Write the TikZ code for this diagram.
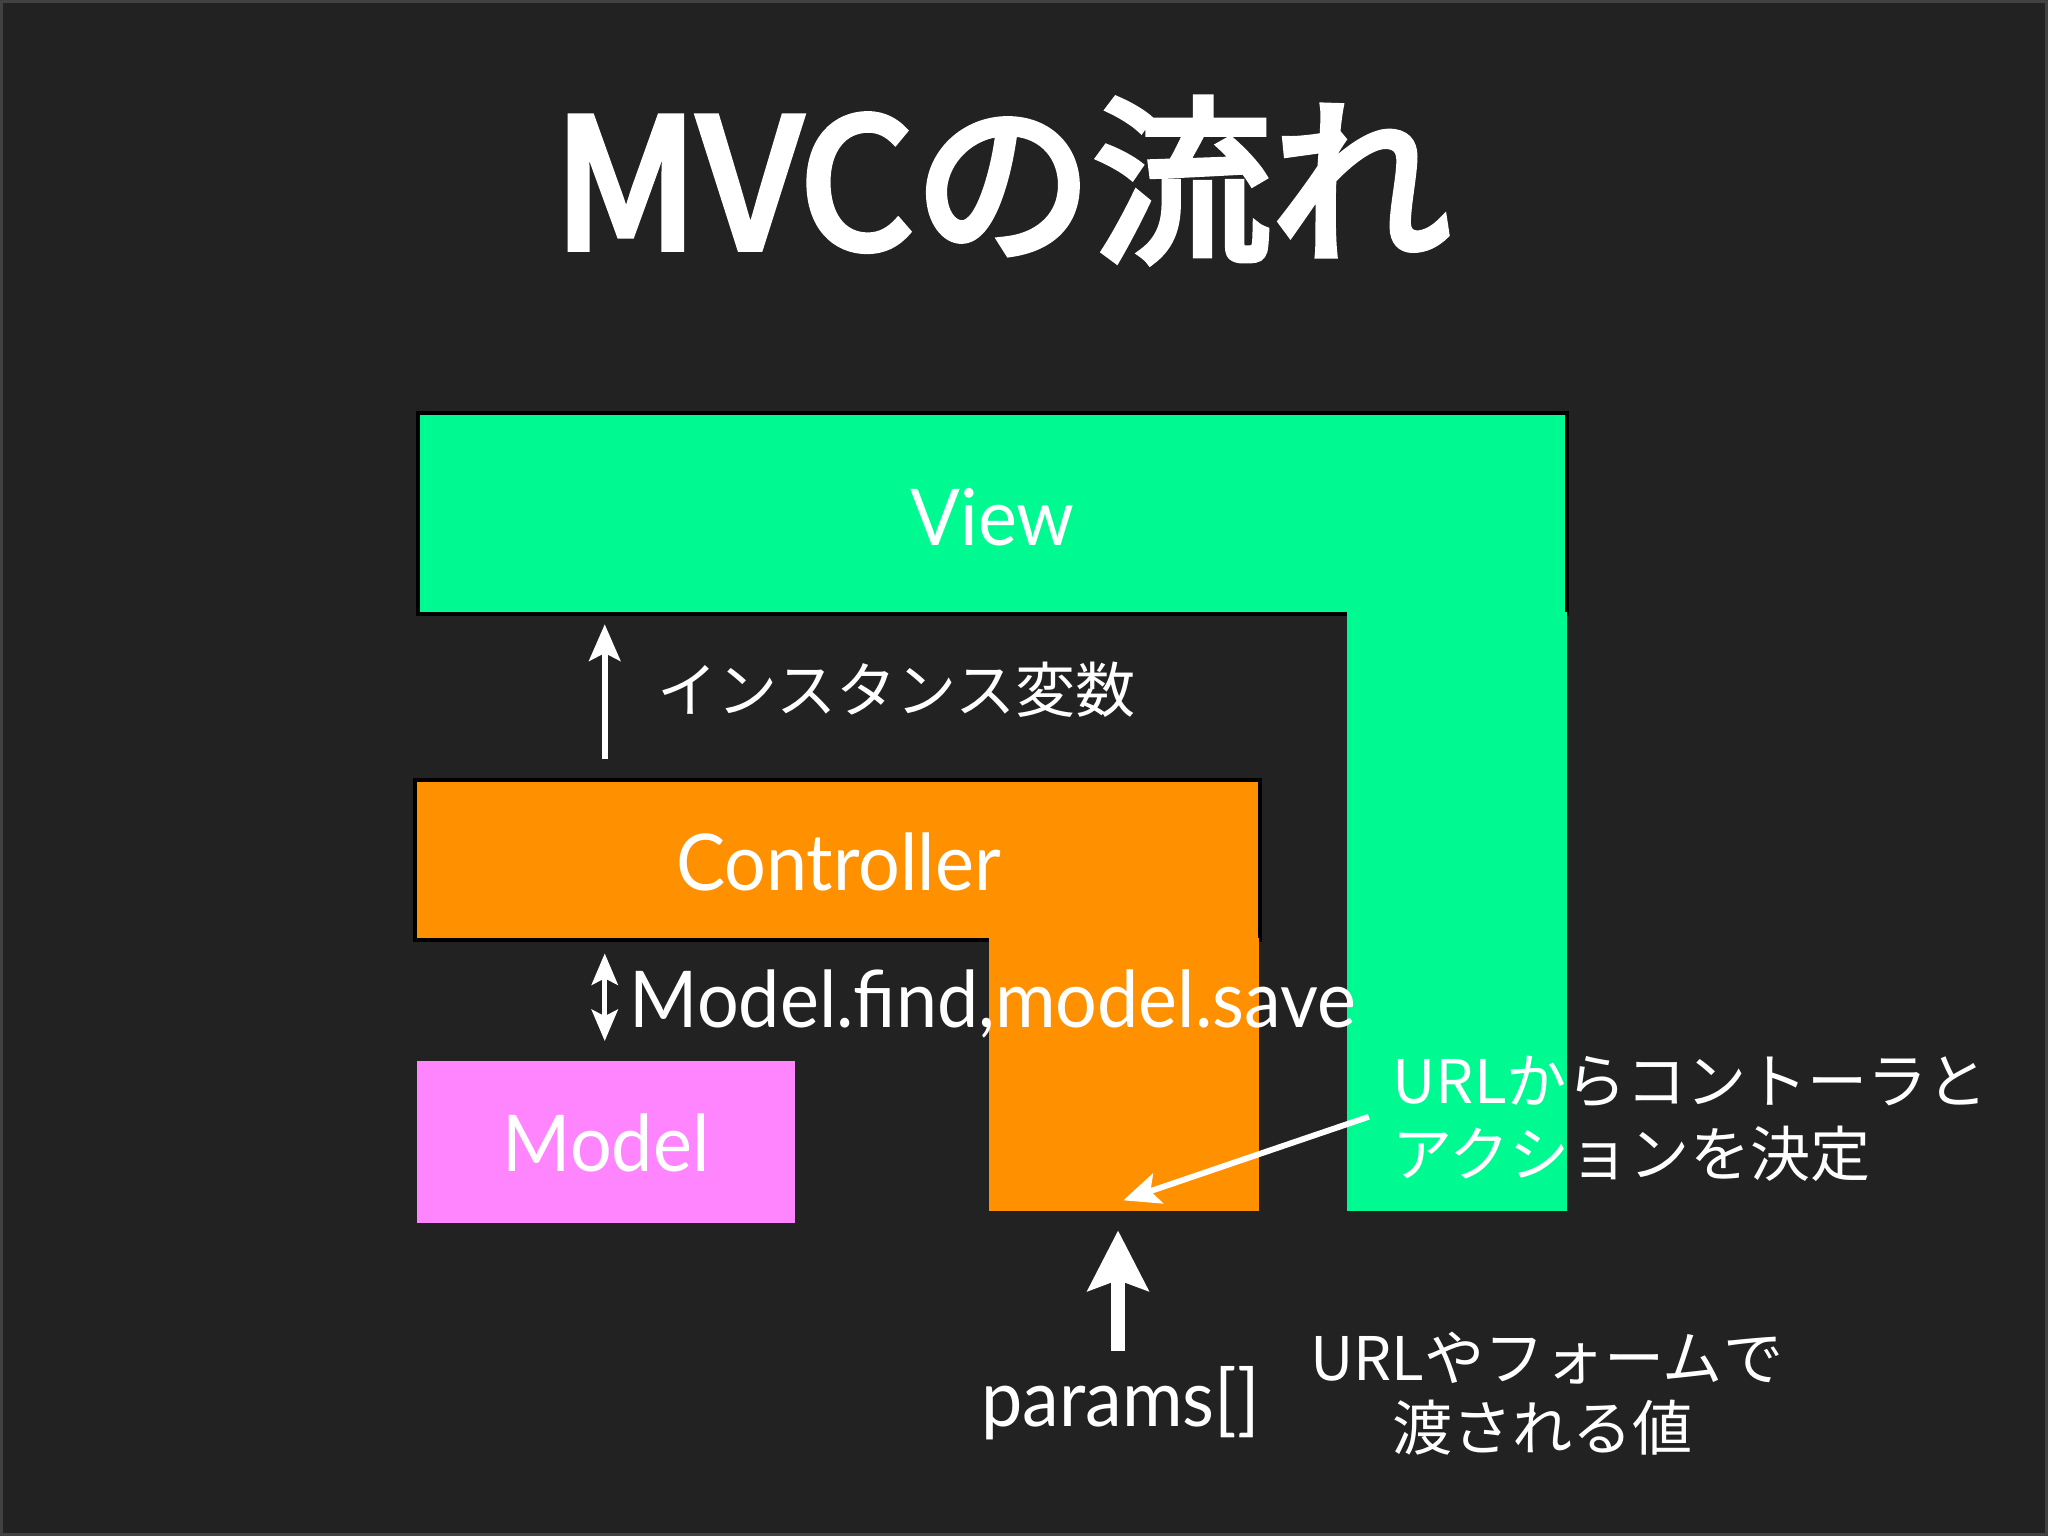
\documentclass[tikz,border=0pt]{standalone}
\usepackage{fontspec}
\setmainfont{Lato}[FakeStretch=0.94]
\newfontfamily\jp{Noto Sans CJK JP}
\newfontfamily\jptitle{Noto Sans CJK JP}[FakeBold=4]
\usetikzlibrary{arrows.meta}
\definecolor{bg}{RGB}{34,34,34}
\definecolor{frame}{RGB}{66,66,66}
\definecolor{vgreen}{RGB}{0,250,146}
\definecolor{corange}{RGB}{255,144,0}
\definecolor{mpink}{RGB}{255,133,255}
\tikzset{
  barline/.style={draw=black,line width=3pt},
  lbl/.style={text=white,inner sep=0pt,font=\fontsize{60}{66}\selectfont},
  jlbl/.style={text=white,inner sep=0pt,font=\jp\fontsize{46}{52}\selectfont},
  thinarrow/.style={white,line width=4.5pt,-{Stealth[length=28pt,width=24pt,inset=6pt]}},
  dblarrow/.style={white,line width=4pt,{Stealth[length=24pt,width=20pt,inset=5pt]}-{Stealth[length=24pt,width=20pt,inset=5pt]}},
  bigarrow/.style={white,line width=11pt,-{Stealth[length=46pt,width=46pt,inset=8pt]}}
}
\begin{document}
\begin{tikzpicture}[x=1pt,y=-1pt]
\useasboundingbox (0,0) rectangle (1568,1176);
\fill[frame] (0,0) rectangle (1568,1176);
\fill[bg] (2,2) rectangle (1566,1174);
% View
\path[fill=vgreen,barline] (320,316) rectangle (1200,470);
\fill[vgreen] (1031,468.5) rectangle (1200,927);
% Controller
\path[fill=corange,barline] (318,597) rectangle (965,720);
\fill[corange] (757,718.5) rectangle (964,927);
% Model
\fill[mpink] (319,812) rectangle (609,936);
% labels
\node[anchor=base,text=white,inner sep=0pt,font=\jptitle\fontsize{137}{140}\selectfont] (title) at (767,190) {MVCの流れ};
\node[lbl,anchor=base] (view) at (760,418) {View};
\node[lbl,anchor=base] (ctrl) at (642,682) {Controller};
\node[lbl,anchor=base] (model) at (464,897) {Model};
\node[jlbl,anchor=west] (inst) at (503,528) {インスタンス変数};
\node[lbl,anchor=base west] (find) at (482,787) {Model.find,model.save};
\node[jlbl,anchor=west] (url1) at (1066,828) {URLからコントーラと};
\node[jlbl,anchor=west] (url2) at (1066,883) {アクションを決定};
\node[lbl,anchor=base] (params) at (858,1092) {params[]};
\node[jlbl,anchor=west] (form1) at (1003,1040) {URLやフォームで};
\node[jlbl,anchor=west] (form2) at (1066,1093) {渡される値};
% arrows
\coordinate (a1s) at (463,581);
\coordinate (a1e) at (463,478);
\draw[thinarrow] (a1s) -- (a1e);
\coordinate (a2s) at (463,730);
\coordinate (a2e) at (463,797);
\draw[dblarrow] (a2s) -- (a2e);
\coordinate (a3s) at (1048,855);
\coordinate (a3e) at (860,919);
\draw[thinarrow] (a3s) -- (a3e);
\coordinate (a4s) at (856,1034);
\coordinate (a4e) at (856,942);
\draw[bigarrow] (a4s) -- (a4e);
\end{tikzpicture}
\end{document}
